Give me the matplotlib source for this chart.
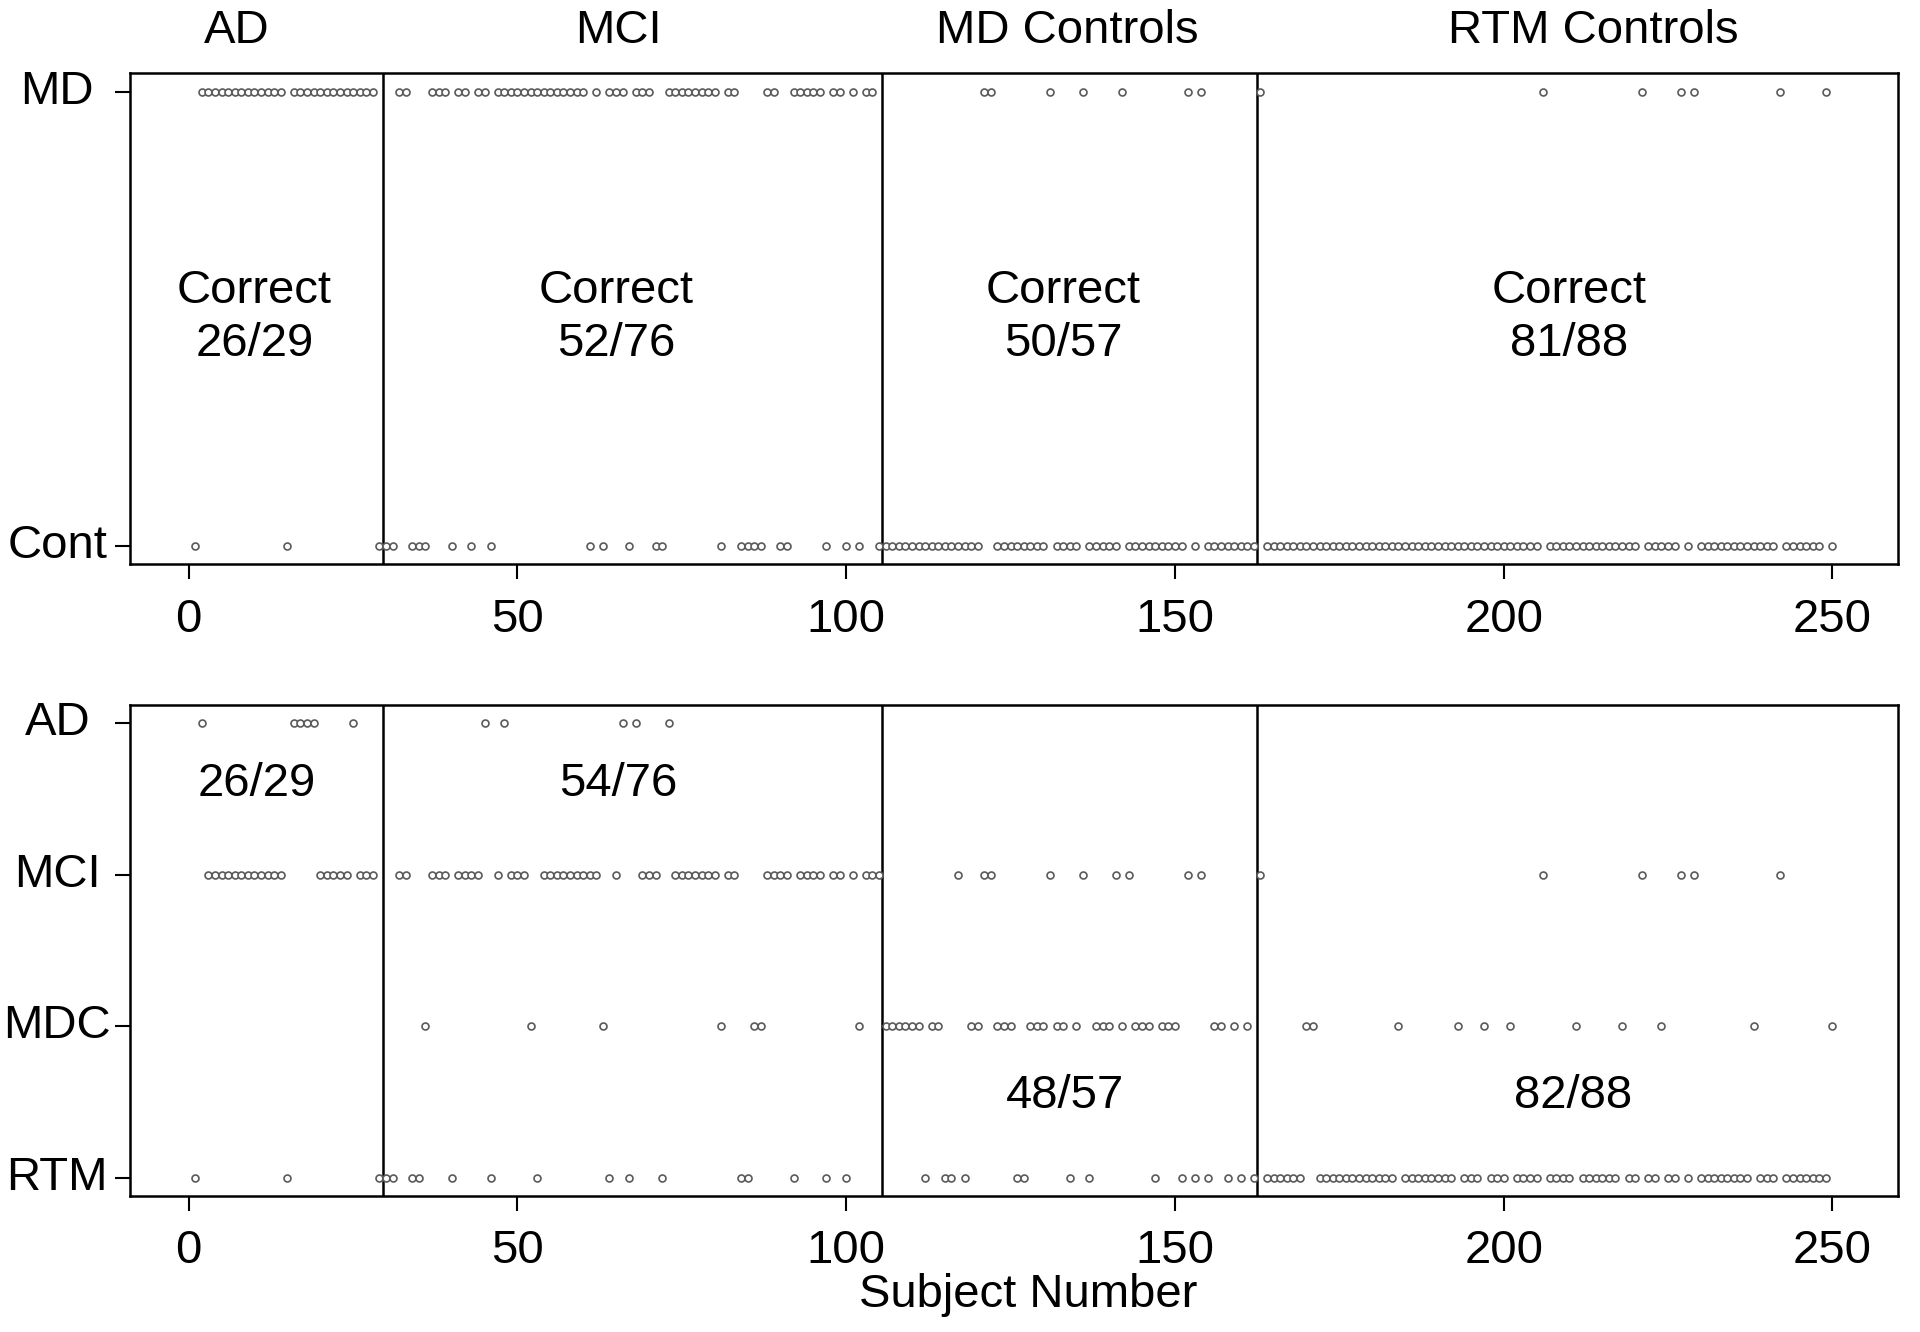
import matplotlib
matplotlib.use("Agg")
import matplotlib.pyplot as plt
import matplotlib.transforms as mtransforms
import numpy as np

plt.rcParams['font.family'] = ['Liberation Sans', 'DejaVu Sans']

group_names = ["AD", "MCI", "MD Controls", "RTM Controls"]
group_sizes = [29, 76, 57, 88]
top_correct = ["Correct\n26/29", "Correct\n52/76", "Correct\n50/57", "Correct\n81/88"]
bottom_correct = ["26/29", "54/76", "48/57", "82/88"]

top_levels = ["Cont", "MD"]
top_codes = "CM"
bottom_levels = ["RTM", "MDC", "MCI", "AD"]
bottom_codes = "RDIA"

# predicted class of subjects 1..250, ten subjects per string
top_pred = "".join([
    "CMMMMMMMMM", "MMMMCMMMMM", "MMMMMMMMCC", "CMMCCCMMMC", "MMCMMCMMMM",
    "MMMMMMMMMM", "CMCMMMCMMM", "CCMMMMMMMM", "CMMCCCCMMC", "CMMMMMCMMC",
    "MCMMCCCCCC", "CCCCCCCCCC", "MMCCCCCCCC", "MCCCCMCCCC", "CMCCCCCCCC",
    "CMCMCCCCCC", "CCMCCCCCCC", "CCCCCCCCCC", "CCCCCCCCCC", "CCCCCCCCCC",
    "CCCCCMCCCC", "CCCCCCCCCC", "MCCCCCMCMC", "CCCCCCCCCC", "CMCCCCCCMC",
])
bottom_pred = "".join([
    "RAIIIIIIII", "IIIIRAAAAI", "IIIIAIIIRR", "RIIRRDIIIR", "IIIIARIAII",
    "IDRIIIIIII", "IIDRIARAII", "IRAIIIIIII", "DIIRRDDIII", "IRIIIIRIIR",
    "IDIIIDDDDD", "DRDDRRIRDD", "IIDDDRRDDD", "IDDRDIRDDD", "IDIDDDRDDD",
    "RIRIRDDRDR", "DRIRRRRRRD", "DRRRRRRRRR", "RRRDRRRRRR", "RRDRRRDRRR",
    "DRRRRIRRRR", "DRRRRRRDRR", "IRRDRRIRIR", "RRRRRRRDRR", "RIRRRRRRRD",
])

subjects = np.arange(1, len(top_pred) + 1)
top_y = np.array([top_codes.index(c) for c in top_pred])
bottom_y = np.array([bottom_codes.index(c) for c in bottom_pred])

fig = plt.figure(figsize=(19.2, 13.32), dpi=100)
ax1 = fig.add_axes([0.0676, 0.5763, 0.9209, 0.3686])
ax2 = fig.add_axes([0.0676, 0.1020, 0.9209, 0.3686])

FS = 34
n = len(subjects)
pad_x = 0.04 * (n - 1)
bounds = np.cumsum(group_sizes)[:-1] + 0.5

for ax, y, levels, ylim in [(ax1, top_y, top_levels, (-0.04, 1.04)),
                            (ax2, bottom_y, bottom_levels, (-0.12, 3.12))]:
    ax.plot(subjects, y, 'o', ls='none', ms=5.0, mfc='white',
            mec='#5a5a5a', mew=1.2, zorder=3)
    for b in bounds:
        ax.axvline(b, color='black', lw=1.8, zorder=2)
    ax.set_xlim(1 - pad_x, n + pad_x)
    ax.set_ylim(*ylim)
    ax.set_xticks([0, 50, 100, 150, 200, 250])
    ax.set_yticks(range(len(levels)))
    ax.set_yticklabels([])
    ax.tick_params(axis='x', labelsize=FS, length=11, width=1.5, pad=13)
    ax.tick_params(axis='y', length=11, width=1.5)
    for s in ax.spines.values():
        s.set_linewidth(1.8)
    tr = mtransforms.blended_transform_factory(ax.transAxes, ax.transData)
    for i, lab in enumerate(levels):
        ax.text(-0.041, i, lab, transform=tr, ha='center', va='center',
                fontsize=FS)

# group titles above the top panel
tr_top = mtransforms.blended_transform_factory(ax1.transData, ax1.transAxes)
title_x = [7.3, 65.3, 133.7, 213.6]
for x, name in zip(title_x, group_names):
    ax1.text(x, 1.087, name, transform=tr_top, ha='center', va='center',
             fontsize=FS)

top_text_x = [10.0, 65.0, 133.0, 210.0]
for x, t in zip(top_text_x, top_correct):
    ax1.text(x, 0.503, t, ha='center', va='center', fontsize=FS,
             linespacing=1.25)

bottom_text_x = [10.4, 65.3, 133.3, 210.6]
bottom_text_y = [2.6, 2.6, 0.54, 0.54]
for x, yy, t in zip(bottom_text_x, bottom_text_y, bottom_correct):
    ax2.text(x, yy, t, ha='center', va='center', fontsize=FS)

fig.text(0.5357, 0.0276, "Subject Number", ha='center', va='center',
         fontsize=FS)

fig.savefig("out.png", dpi=100)
